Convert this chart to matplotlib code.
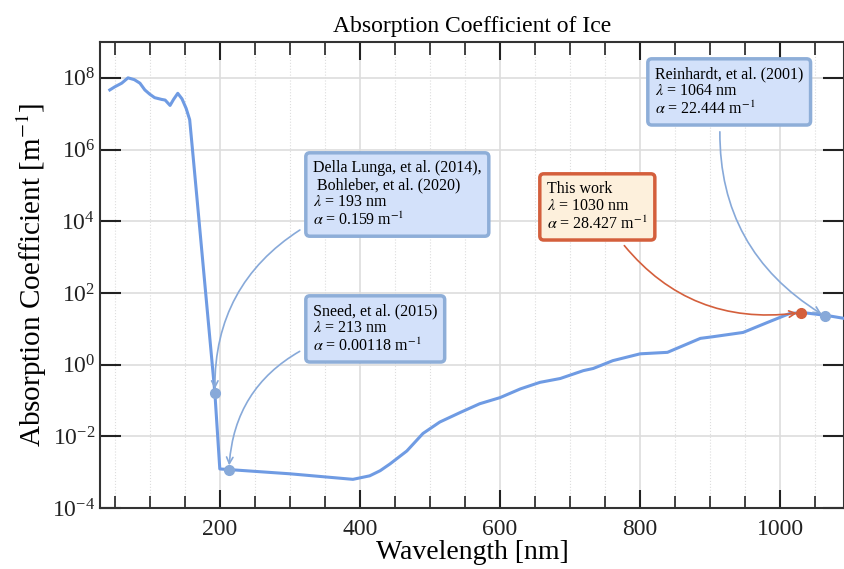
import numpy as np
import matplotlib
matplotlib.use('Agg')
import matplotlib.pyplot as plt
from matplotlib.ticker import MultipleLocator, FixedLocator, LogFormatterSciNotation, NullLocator

plt.rcParams['font.family'] = ['Liberation Serif', 'DejaVu Serif']
plt.rcParams['mathtext.fontset'] = 'stix'

# absorption spectrum of ice
wavelength = [43, 50, 60, 69, 78, 86, 93, 100, 107, 117, 122, 129, 134, 140, 146,
              152, 157, 161, 167, 176, 193, 200, 300, 390, 414, 429, 443, 467,
              490, 514, 543, 571, 600, 629, 657, 686, 719, 733, 761, 800, 839,
              886, 904, 947, 981, 1014, 1033, 1067, 1091]
alpha = [4.6e7, 5.6e7, 7.1e7, 1.0e8, 8.9e7, 7.1e7, 4.6e7, 3.5e7, 2.8e7, 2.5e7,
         2.4e7, 1.7e7, 2.5e7, 3.7e7, 2.6e7, 1.4e7, 6.8e6, 1.0e6, 5.4e4, 6.5e2,
         0.159, 1.23e-3, 9.0e-4, 6.3e-4, 7.9e-4, 1.1e-3, 1.7e-3, 3.9e-3,
         1.2e-2, 2.5e-2, 4.6e-2, 8.1e-2, 0.12, 0.21, 0.32, 0.41, 0.68, 0.78,
         1.29, 2.0, 2.2, 5.4, 6.0, 7.9, 14.8, 26.9, 28.2, 23.4, 19.5]

# literature / measured points
ref_labels = ['Della Lunga, et al. (2014),\n Bohleber, et al. (2020)',
              'Sneed, et al. (2015)',
              'This work',
              'Reinhardt, et al. (2001)']
ref_wl = [193, 213, 1030, 1064]
ref_alpha = [0.159, 0.00118, 28.427, 22.444]
ref_alpha_txt = ['0.159', '0.00118', '28.427', '22.444']

blue_line = '#6f9be3'
blue_pt = '#87a9d9'
blue_face = '#d3e1fa'
blue_edge = '#8eaed8'
orange = '#d45f3c'
orange_face = '#fdf0dc'

fig = plt.figure(figsize=(8.44, 5.69), dpi=100)
ax = fig.add_axes([100/844, 1 - 508/569, 744/844, 466/569])

ax.plot(wavelength, alpha, color=blue_line, lw=2.2, zorder=3)
ax.set_yscale('log')
ax.set_xlim(29, 1091)
ax.set_ylim(1e-4, 1e9)

# markers
colors = [blue_pt, blue_pt, orange, blue_pt]
for w, a, c in zip(ref_wl, ref_alpha, colors):
    ax.plot(w, a, 'o', color=c, ms=7, zorder=4)

# annotation boxes (top-left of text, in pixels of the figure)
text_px = [(313, 160), (313, 303), (547, 181), (655, 66)]
text_pos = [((x - 100) / 744, 1 - (y - 42) / 466) for x, y in text_px]
relpos = [(0.0, 0.1), (0.0, 0.2), (0.67, 0.0), (0.44, 0.0)]
faces = [blue_face, blue_face, orange_face, blue_face]
edges = [blue_edge, blue_edge, orange, blue_edge]
arrow_cols = [blue_pt, blue_pt, orange, blue_pt]

for i in range(len(ref_labels)):
    txt = (ref_labels[i] + '\n' + r'$\lambda$ = %d nm' % ref_wl[i] + '\n'
           + r'$\alpha$ = ' + ref_alpha_txt[i] + r' m$^{-1}$')
    ax.annotate(txt, xy=(ref_wl[i], ref_alpha[i]), xycoords='data',
                xytext=text_pos[i], textcoords='axes fraction',
                ha='left', va='top', fontsize=11.5, linespacing=1.1,
                zorder=6,
                bbox=dict(boxstyle='round,pad=0.45,rounding_size=0.25',
                          fc=faces[i], ec=edges[i], lw=2.5),
                arrowprops=dict(arrowstyle='->', color=arrow_cols[i], lw=1.2,
                                connectionstyle='arc3,rad=0.3',
                                relpos=relpos[i], shrinkA=4, shrinkB=3))

# axes styling
ax.xaxis.set_major_locator(MultipleLocator(200))
ax.xaxis.set_minor_locator(MultipleLocator(50))
ax.yaxis.set_major_locator(FixedLocator(10.0 ** np.arange(-4, 9, 2)))
ax.yaxis.set_major_formatter(LogFormatterSciNotation())
ax.yaxis.set_minor_locator(NullLocator())

ax.grid(True, which='major', color='#dddddd', lw=1.2, zorder=0)
ax.grid(True, which='minor', axis='x', color='#dddddd', lw=0.8, ls=':', zorder=0)
ax.set_axisbelow(True)

ax.tick_params(which='both', direction='in', top=True, right=True,
               colors='#222222', labelsize=17)
ax.tick_params(which='major', length=13, width=1.5)
ax.tick_params(which='minor', length=9, width=1.2)
ax.tick_params(axis='y', which='major', length=15)
ax.tick_params(axis='x', which='major', pad=8)
for s in ax.spines.values():
    s.set_color('#333333')
    s.set_linewidth(1.5)

ax.set_xlabel('Wavelength [nm]', fontsize=20, labelpad=0)
ax.set_ylabel(r'Absorption Coefficient [m$^{-1}$]', fontsize=21, labelpad=2)
ax.set_title('Absorption Coefficient of Ice', fontsize=17, pad=7)

fig.savefig('out.png', dpi=100)
